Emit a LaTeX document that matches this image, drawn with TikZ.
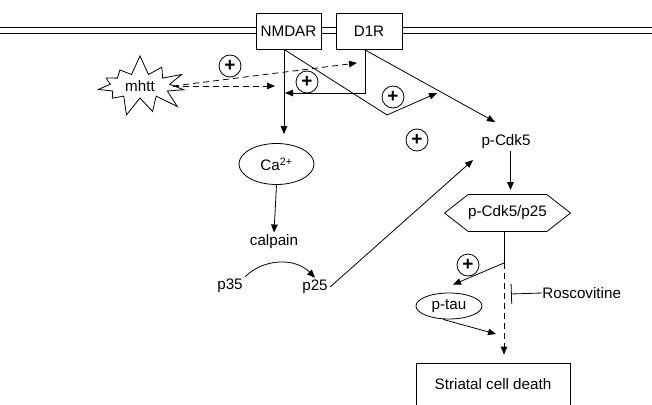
\documentclass[tikz,border=0pt]{standalone}
\usepackage{fontspec}
\setmainfont{Liberation Sans}
\usetikzlibrary{arrows.meta, positioning, shapes.geometric, shapes.symbols}

\begin{document}
\begin{tikzpicture}[
  x=1pt, y=-1pt,
  font=\fontsize{15.2}{18}\selectfont,
  line width=0.8pt,
  box/.style={draw, fill=white, minimum height=36pt, align=center},
  oval/.style={draw, ellipse, inner sep=0pt},
  plus/.style={draw, circle, minimum size=22pt, inner sep=0pt,
               font=\fontsize{19}{19}\selectfont\bfseries},
  lbl/.style={inner sep=2pt},
  arr/.style={-{Triangle[length=8pt,width=6.5pt]}},
  dasharr/.style={arr, dash pattern=on 6pt off 4pt},
  blockarr/.style={-{Bar[width=20pt]}}
]
\useasboundingbox (0,0) rectangle (652,404);

% membrane
\coordinate (memTL) at (0,27);
\coordinate (memTR) at (652,27);
\coordinate (memBL) at (0,33);
\coordinate (memBR) at (652,33);
\draw (memTL) -- (memTR);
\draw (memBL) -- (memBR);

\node[box, minimum width=65pt] (nmdar) at (288.5,31) {NMDAR};
\node[box, minimum width=66pt] (d1r)   at (369,31.5) {D1R};

\node[draw, starburst, starburst points=11, starburst point height=20pt,
      random starburst=7, minimum width=100pt, minimum height=64pt,
      inner sep=0pt] (mhtt) at (140,86) {mhtt};

% plus signs
\node[plus] (plusA) at (230,66)  {+};
\node[plus] (plusB) at (307,82)  {+};
\node[plus] (plusC) at (393,97)  {+};
\node[plus] (plusD) at (417,140) {+};
\node[plus] (plusE) at (468,265) {+};

\node[oval, minimum width=75pt, minimum height=41pt] (ca) at (276.5,164) {Ca\textsuperscript{2+}};
\node[lbl] (calpain) at (274,242) {calpain};
\node[lbl] (p35) at (230,286) {p35};
\node[lbl] (p25) at (315,287) {p25};
\node[lbl] (pcdk) at (506,142) {p-Cdk5};
\node[draw, signal, signal to=west and east, signal pointer angle=76,
      minimum width=125pt, minimum height=37pt, inner sep=0pt] (cplx) at (507.5,213) {p-Cdk5/p25};
\node[oval, minimum width=66pt, minimum height=26pt] (ptau) at (449,306) {p-tau};
\node[lbl, anchor=west, inner sep=0pt] (rosc) at (542,293) {Roscovitine};
\node[draw, minimum width=154pt, minimum height=43pt] (death) at (493,384.5) {Striatal cell death};

% bend and end points
\coordinate (nmHit) at (285,93);
\coordinate (kink)  at (387,115);
\coordinate (tipA)  at (437,93);
\coordinate (cdkIn) at (495,122);
\coordinate (cdkLo) at (473,160);
\coordinate (mhA)   at (275,86);
\coordinate (mhB)   at (357,63);
\coordinate (split) at (504,263);
\coordinate (tauEnd) at (496,334);
\coordinate (rbar)  at (511,294);

% connectors
\draw[arr] ([xshift=-4.5pt]nmdar.south) -- ([xshift=7.5pt,yshift=9pt]ca.north);
\draw[arr] ([xshift=-4pt]d1r.south) |- (nmHit);
\draw[arr] ([xshift=-4.5pt]nmdar.south) -- (kink) -- (tipA);
\draw[arr] ([xshift=-4pt]d1r.south) -- (cdkIn);
\draw[dasharr] ([xshift=-2pt]mhtt.east) -- (mhA);
\draw[dasharr] ([xshift=-2pt]mhtt.east) -- (mhB);
\draw[arr] (ca.south) -- (calpain.north);
\draw[arr] (p35.north east) to[bend left=45] (p25.north);
\draw[arr] (p25.east) -- (cdkLo);
\draw[arr, line width=1.6pt] ([xshift=4.5pt]pcdk.south) -- ([xshift=3pt,yshift=4pt]cplx.north);
\draw ([xshift=-3.5pt]cplx.south) -- (split);
\draw[arr] (split) -- ([xshift=4pt,yshift=8pt]ptau.north);
\draw[dasharr] (split) -- ([xshift=11pt,yshift=8pt]death.north);
\draw[arr] ([xshift=-6pt]ptau.south) -- (tauEnd);
\draw[blockarr] (rosc.west) -- (rbar);
\end{tikzpicture}
\end{document}
